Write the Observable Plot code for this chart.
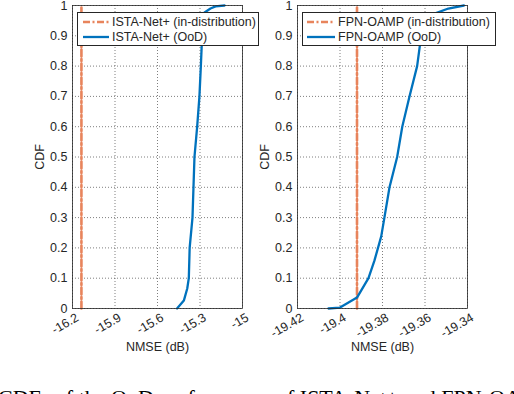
<!DOCTYPE html>
<html>
<head>
<meta charset="utf-8">
<script src="https://cdn.jsdelivr.net/npm/d3@7"></script>
<script src="https://cdn.jsdelivr.net/npm/@observablehq/plot@0.6"></script>
<style>
  html, body { margin: 0; padding: 0; background: #fff; }
  #root { position: relative; width: 514px; height: 394px; overflow: hidden; background: #fff; }
  .panel { position: absolute; top: 0; }
  .legend { position: absolute; background: #fff; border: 0.8px solid #262626; box-sizing: border-box;
            font-family: "Liberation Sans", Arial, sans-serif; font-size: 12.5px; color: #262626; }
  .legend .row { position: absolute; left: 0; height: 14px; display: flex; align-items: center; white-space: nowrap; }
  .legend svg { display: block; }
  #caption { position: absolute; left: -2px; top: 385px; font-family: "Liberation Serif", "Times New Roman", serif;
             font-size: 22px; color: #000; white-space: nowrap; }
</style>
</head>
<body>
<div id="root"></div>
<script>
// ---------- data ----------
const cdfTicks = [0, 0.1, 0.2, 0.3, 0.4, 0.5, 0.6, 0.7, 0.8, 0.9, 1];
const cdfTickLabels = ["0", "0.1", "0.2", "0.3", "0.4", "0.5", "0.6", "0.7", "0.8", "0.9", "1"];

// Left panel: ISTA-Net+
const istaTicks = [-16.2, -15.9, -15.6, -15.3, -15];
const istaTickLabels = ["-16.2", "-15.9", "-15.6", "-15.3", "-15"];
const istaSeries = ["ISTA-Net+ (in-distribution)", "ISTA-Net+ (OoD)"];
const istaInNmse = [-16.137, -16.137];
const istaInCdf = [0, 1];
const istaOodNmse = [-15.462, -15.414, -15.390, -15.379, -15.373, -15.353, -15.346, -15.339, -15.320, -15.304, -15.294, -15.285, -15.279, -15.268, -15.226, -15.190, -15.127];
const istaOodCdf  = [0,       0.026,   0.066,   0.1,     0.2,     0.3,     0.4,     0.5,     0.6,     0.7,     0.8,     0.9,     0.95,    0.977,   0.99,    0.997,   1];

// Right panel: FPN-OAMP
const fpnTicks = [-19.42, -19.40, -19.38, -19.36, -19.34];
const fpnTickLabels = ["-19.42", "-19.4", "-19.38", "-19.36", "-19.34"];
const fpnSeries = ["FPN-OAMP (in-distribution)", "FPN-OAMP (OoD)"];
const fpnInNmse = [-19.392, -19.392];
const fpnInCdf = [0, 1];
const fpnOodNmse = [-19.4054, -19.4000, -19.3920, -19.3866, -19.3838, -19.3806, -19.3791, -19.3767, -19.3731, -19.3707, -19.3673, -19.3637, -19.3618, -19.3555, -19.3490, -19.3417];
const fpnOodCdf  = [0,        0.003,    0.036,    0.1,      0.158,    0.238,    0.3,      0.4,      0.5,      0.6,      0.7,      0.8,      0.9,      0.973,    0.99,     1];

const xLabel = "NMSE (dB)";
const yLabel = "CDF";
const captionText = "CDFs of the OoD performance of ISTA-Net+ and FPN-OAMP.";

// ---------- styles ----------
const BLUE = "#0072BD";
const ORANGE = "#E8845C";
const DASH = "7,2.5,2,2.5";
const INK = "#262626";

function zip(xs, ys) { return xs.map((x, i) => ({x, y: ys[i]})); }

function panel({left, marginLeft, marginRight, ticks, tickLabels, inX, inY, oodX, oodY}) {
  const xFmt = new Map(ticks.map((t, i) => [t, tickLabels[i]]));
  const yFmt = new Map(cdfTicks.map((t, i) => [t, cdfTickLabels[i]]));
  const chart = Plot.plot({
    width: 257, height: 360,
    marginLeft, marginRight, marginTop: 5, marginBottom: 52,
    x: {domain: [ticks[0], ticks[ticks.length - 1]], label: null},
    y: {domain: [0, 1], label: null},
    style: {fontFamily: '"Liberation Sans", Arial, sans-serif', fontSize: "12.5px", color: INK, background: "transparent", overflow: "visible"},
    marks: [
      Plot.gridX(ticks, {stroke: INK, strokeOpacity: 0.85, strokeWidth: 0.7, strokeDasharray: "1,2"}),
      Plot.gridY(cdfTicks, {stroke: INK, strokeOpacity: 0.85, strokeWidth: 0.7, strokeDasharray: "1,2"}),
      Plot.axisX(ticks, {tickSize: 0, tickPadding: 8, tickRotate: -30, dx: 5, tickFormat: d => xFmt.get(d),
        label: null, fill: INK}),
      Plot.axisX(ticks, {tickSize: 0, tickFormat: () => "", label: xLabel, labelAnchor: "center", labelOffset: 42, labelArrow: "none", fill: INK}),
      Plot.axisY(cdfTicks, {tickSize: 0, tickPadding: 5, tickFormat: d => yFmt.get(d),
        label: yLabel, labelAnchor: "center", labelOffset: 37, labelArrow: "none", fill: INK}),
      Plot.line(zip(inX, inY), {x: "x", y: "y", stroke: ORANGE, strokeWidth: 2.6, strokeDasharray: DASH}),
      Plot.line(zip(oodX, oodY), {x: "x", y: "y", stroke: BLUE, strokeWidth: 2.3}),
      Plot.frame({stroke: INK, strokeWidth: 0.8})
    ]
  });
  const wrap = document.createElement("div");
  wrap.className = "panel";
  wrap.style.left = left + "px";
  wrap.appendChild(chart);
  return wrap;
}

function legend({left, top, width, sampleLeft, sampleWidth, textLeft, names}) {
  const box = document.createElement("div");
  box.className = "legend";
  Object.assign(box.style, {left: left + "px", top: top + "px", width: width + "px", height: "34px"});
  const styles = [{stroke: ORANGE, dash: DASH, w: 2.6}, {stroke: BLUE, dash: null, w: 2.3}];
  names.forEach((name, i) => {
    const row = document.createElement("div");
    row.className = "row";
    row.style.top = (2 + i * 14.5) + "px";
    row.style.left = (sampleLeft - left) + "px";
    const svg = d3.create("svg").attr("width", textLeft - sampleLeft).attr("height", 14);
    svg.append("line").attr("x1", 0).attr("x2", sampleWidth).attr("y1", 7).attr("y2", 7)
      .attr("stroke", styles[i].stroke).attr("stroke-width", styles[i].w)
      .attr("stroke-dasharray", styles[i].dash);
    row.appendChild(svg.node());
    const t = document.createElement("span");
    t.textContent = name;
    row.appendChild(t);
    box.appendChild(row);
  });
  return box;
}

const root = document.getElementById("root");
root.appendChild(panel({left: 0, marginLeft: 72, marginRight: 15, ticks: istaTicks, tickLabels: istaTickLabels,
  inX: istaInNmse, inY: istaInCdf, oodX: istaOodNmse, oodY: istaOodCdf}));
root.appendChild(panel({left: 257, marginLeft: 40, marginRight: 47, ticks: fpnTicks, tickLabels: fpnTickLabels,
  inX: fpnInNmse, inY: fpnInCdf, oodX: fpnOodNmse, oodY: fpnOodCdf}));
root.appendChild(legend({left: 77, top: 12, width: 182, sampleLeft: 82, sampleWidth: 26, textLeft: 111, names: istaSeries}));
root.appendChild(legend({left: 302, top: 12, width: 194, sampleLeft: 306, sampleWidth: 28, textLeft: 337, names: fpnSeries}));
const cap = document.createElement("div");
cap.id = "caption";
cap.textContent = captionText;
root.appendChild(cap);
</script>
</body>
</html>
